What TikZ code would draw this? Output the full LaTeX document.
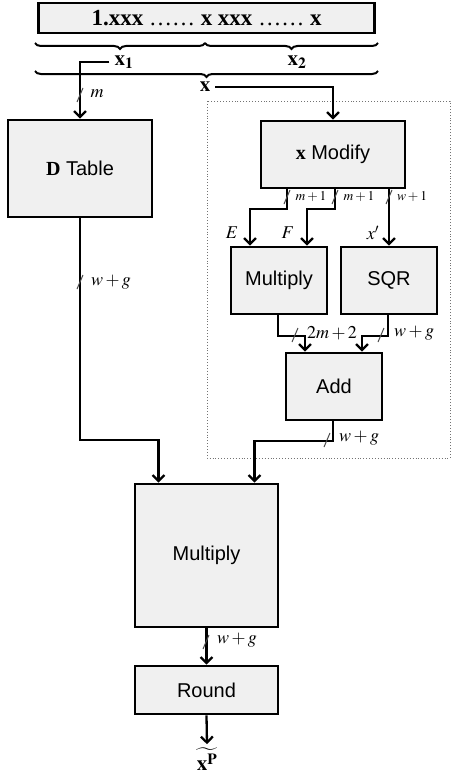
\documentclass[tikz,border=0pt]{standalone}
\usepackage{mathptmx}
\usepackage{fontspec}
\setmainfont{Liberation Serif}
\setsansfont{Liberation Sans}
\usetikzlibrary{arrows.meta,decorations.pathreplacing}
\begin{document}
\begin{tikzpicture}[x=1pt,y=-1pt,
 blk/.style={draw,line width=2.6pt,fill=black!6,inner sep=0pt,font=\fontsize{20}{24}\sffamily},
 wire/.style={line width=2.3pt,-{Straight Barb[length=6pt,width=12pt]}},
 bus/.style={black!70,line width=1pt},
 lbl/.style={font=\fontsize{18}{21}\selectfont,inner sep=1pt},
 slbl/.style={font=\fontsize{13.5}{16}\selectfont,inner sep=1pt},
 brc/.style={line width=2pt,decorate,decoration={brace,mirror,amplitude=6pt}},
]
\useasboundingbox (0,0) rectangle (452,776);

% dotted region
\draw[black!55,dotted,line width=0.9pt] (207,101) rectangle (450,458);

% top word
\node[blk,minimum width=336pt,minimum height=30pt,font=\fontsize{23}{27}\selectfont] (top) at (206.5,18)
  {\textbf{1.xxx} \ldots\ldots\ \textbf{x xxx} \ldots\ldots\ \textbf{x}};

% braces
\draw[brc] (35,43) -- (205,43);
\draw[brc] (205,43) -- (378,43);
\draw[brc] (35,71) -- (378,71);

\node[lbl,font=\fontsize{21}{24}\selectfont] (x1) at (124,62) {$\mathbf{x_1}$};
\node[lbl,font=\fontsize{21}{24}\selectfont] (x2) at (297,62) {$\mathbf{x_2}$};
\node[lbl,font=\fontsize{21}{24}\selectfont] (xx) at (205,87) {$\mathbf{x}$};

% blocks
\node[blk,minimum width=144pt,minimum height=97pt] (dt) at (80,168.5) {\textbf{\rmfamily D} Table};
\node[blk,minimum width=144pt,minimum height=67pt] (xm) at (333,154.5) {\textbf{\rmfamily x} Modify};
\node[blk,minimum width=96pt,minimum height=67pt] (m1) at (279,280.5) {Multiply};
\node[blk,minimum width=96pt,minimum height=67pt] (sq) at (389,280.5) {SQR};
\node[blk,minimum width=96pt,minimum height=67pt] (ad) at (334,386.5) {Add};
\node[blk,minimum width=143pt,minimum height=143pt] (m2) at (206.5,555.5) {Multiply};
\node[blk,minimum width=143pt,minimum height=48pt] (rd) at (206.5,690) {Round};
\node[inner sep=0pt,font=\fontsize{21}{24}\selectfont] (out) at (207,759) {$\widetilde{\,\mathbf{x}^{\mathbf{P}}\,}$};

\coordinate (j) at (0,440);

% connectors
\draw[wire] ([xshift=-4pt]x1.west) -| (dt.north);
\draw[wire] ([xshift=4pt]xx.east) -| (xm.north);
\draw[wire] ([xshift=-46pt]xm.south) -- ++(0,20) -| ([xshift=-29pt]m1.north);
\draw[wire] ([xshift=2pt]xm.south) -- ++(0,20) -| ([xshift=28pt]m1.north);
\draw[wire] ([xshift=56pt]xm.south) -- (sq.north);
\draw[wire] ([xshift=-1pt]m1.south) -- ++(0,21) -| ([xshift=-29pt]ad.north);
\draw[wire] ([xshift=-1pt]sq.south) -- ++(0,21) -| ([xshift=28pt]ad.north);
\draw[wire] ([xshift=-1pt]ad.south) -- ++(0,20) -| ([xshift=48pt]m2.north);
\draw[wire] (dt.south) -- (dt.south |- j) -| ([xshift=-48pt]m2.north);
\draw[wire] (m2.south) -- (rd.north);
\draw[wire] (rd.south) -- ([yshift=3pt]out.north);

% bus width marks
\draw[bus] (80,95) ++(-3,7) -- ++(6,-14);
\draw[bus] (80,282) ++(-3,7) -- ++(6,-14);
\draw[bus] (287,197) ++(-3,7) -- ++(6,-14);
\draw[bus] (335,197) ++(-3,7) -- ++(6,-14);
\draw[bus] (389,197) ++(-3,7) -- ++(6,-14);
\draw[bus] (295,335) ++(-3,7) -- ++(6,-14);
\draw[bus] (381,335) ++(-3,7) -- ++(6,-14);
\draw[bus] (327,440) ++(-3,7) -- ++(6,-14);
\draw[bus] (206,642) ++(-3,7) -- ++(6,-14);

% labels
\node[lbl] (lm) at (97,94) {$m$};
\node[lbl] (lwg1) at (111,282) {$w+g$};
\node[slbl] (lm1) at (311,197) {$m+1$};
\node[slbl] (lm2) at (359,197) {$m+1$};
\node[slbl] (lw1) at (412,197) {$w+1$};
\node[lbl] (lE) at (232,233) {$E$};
\node[lbl] (lF) at (288,233) {$F$};
\node[lbl] (lxp) at (373,233) {$x'$};
\node[lbl] (l2m) at (332,333) {$2m+2$};
\node[lbl] (lwg2) at (414,333) {$w+g$};
\node[lbl] (lwg3) at (359,438) {$w+g$};
\node[lbl] (lwg4) at (237,640) {$w+g$};
\end{tikzpicture}
\end{document}
